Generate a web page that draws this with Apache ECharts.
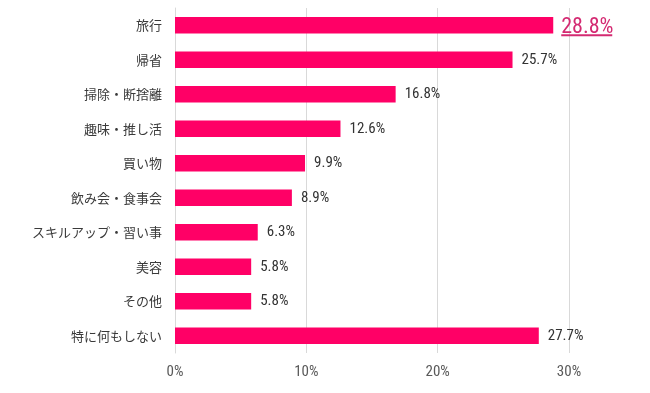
<!DOCTYPE html>
<html><head><meta charset="utf-8">
<script src="https://cdn.jsdelivr.net/npm/echarts@6/dist/echarts.min.js"></script>
<style>html,body{margin:0;padding:0;background:#fff}#c{width:650px;height:393px}</style>
</head><body><div id="c"></div>
<script>
const categories = ['旅行','帰省','掃除・断捨離','趣味・推し活','買い物','飲み会・食事会','スキルアップ・習い事','美容','その他','特に何もしない'];
const values = [28.8,25.7,16.8,12.6,9.9,8.9,6.3,5.8,5.8,27.7];
const xTicks = [0,10,20,30];
const highlightIndex = 0;

const chart = echarts.init(document.getElementById('c'));
const jp = '"Noto Sans CJK JP", "Noto Sans", sans-serif';
const num = '"Roboto Condensed", "Liberation Sans", sans-serif';
chart.setOption({
  animation:false,
  grid:{left:175,right:81,top:8,bottom:40,containLabel:false},
  xAxis:{type:'value',min:0,max:30,interval:10,
    axisLine:{show:false},axisTick:{show:false},
    splitLine:{lineStyle:{color:'#d9d9d9',width:1}},
    axisLabel:{formatter:v=>xTicks.includes(v)?v+'%':'',color:'#595959',fontSize:15,fontFamily:num,margin:12}},
  yAxis:{type:'category',inverse:true,data:categories,
    axisLine:{show:true,lineStyle:{color:'#d9d9d9'}},axisTick:{show:false},
    axisLabel:{color:'#3a3a3a',fontSize:13,fontFamily:jp,margin:13}},
  series:[{type:'bar',data:values.map((v,i)=>i===highlightIndex?{value:v,label:{
      formatter:'{a|'+v.toFixed(1)+'%}\n{u|}',
      rich:{a:{fontSize:22,fontFamily:num,fontWeight:'normal',color:'#D42A72',lineHeight:20,padding:[6,0,0,0]},
            u:{width:51,height:2,backgroundColor:'#D42A72'}},distance:8}}:v),
    barWidth:'48%',itemStyle:{color:'#FF0066'},
    label:{show:true,position:'right',distance:9,formatter:p=>p.value.toFixed(1)+'%',
      color:'#333333',fontSize:15,fontFamily:num,fontWeight:'normal'}}]
});
</script></body></html>
